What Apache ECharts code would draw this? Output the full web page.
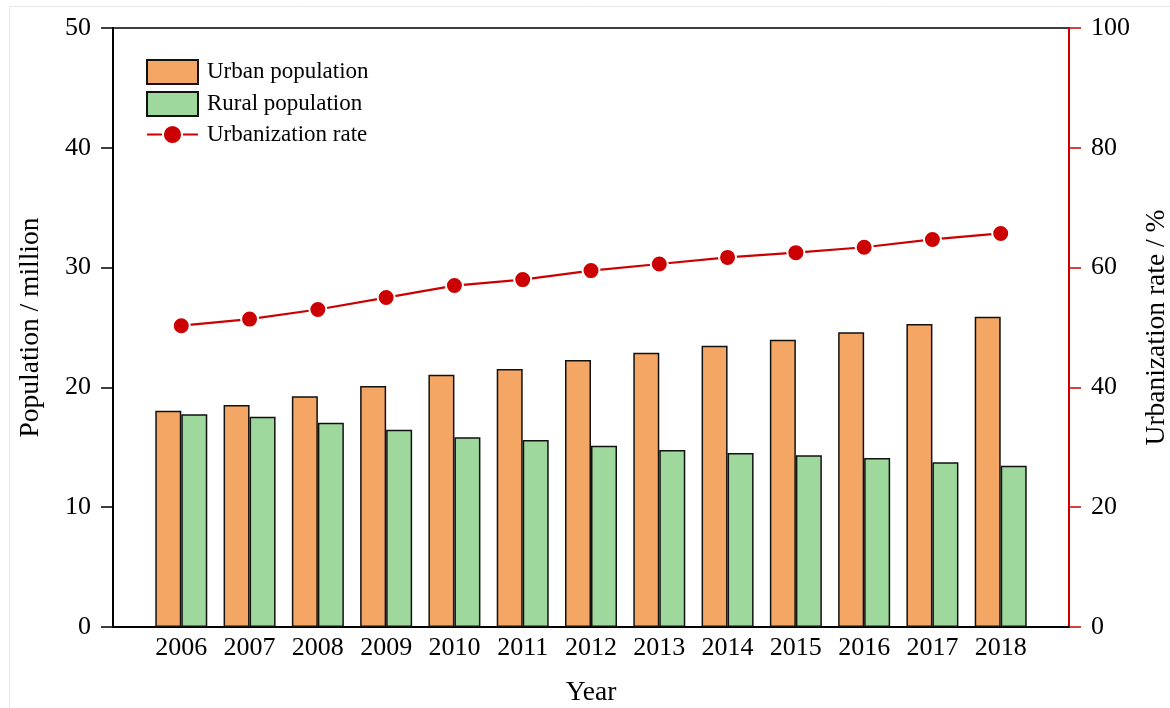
<!DOCTYPE html>
<html>
<head>
<meta charset="utf-8">
<script src="https://cdn.jsdelivr.net/npm/echarts@6/dist/echarts.min.js"></script>
<style>html,body{margin:0;padding:0;background:#fff}#c{width:1170px;height:708px}</style>
</head>
<body>
<div id="c"></div>
<script>
const years = ['2006','2007','2008','2009','2010','2011','2012','2013','2014','2015','2016','2017','2018'];
const urbanPop = [18.06, 18.53, 19.26, 20.12, 21.06, 21.54, 22.29, 22.90, 23.48, 23.98, 24.60, 25.29, 25.90];
const ruralPop = [17.75, 17.55, 17.05, 16.47, 15.83, 15.61, 15.13, 14.77, 14.52, 14.33, 14.11, 13.75, 13.46];
const urbanRate = [50.3, 51.4, 53.0, 55.0, 57.0, 58.0, 59.5, 60.6, 61.7, 62.5, 63.4, 64.7, 65.7];

const font = 'Liberation Serif';
const pad = arr => ['-', ...arr, '-'];
const cats = ['', ...years, ''];

const chart = echarts.init(document.getElementById('c'), null, {renderer: 'canvas'});
chart.setOption({
  animation: false,
  backgroundColor: '#fff',
  textStyle: {fontFamily: font},
  graphic: [{type: 'rect', shape: {x: 9.5, y: 6.5, width: 1200, height: 800}, style: {fill: 'none', stroke: '#e8e8e8', lineWidth: 1}, silent: true, z: -1}],
  grid: {left: 113, right: 101, top: 28, bottom: 81, show: true, borderColor: '#000', borderWidth: 1.5, outerBoundsMode: 'none', containLabel: false},
  legend: {
    orient: 'vertical', left: 146, top: 59, padding: 0, itemWidth: 51, itemHeight: 24, itemGap: 6,
    textStyle: {fontFamily: font, fontSize: 23, color: '#000', padding: [0, 0, 0, 4]},
    data: [
      {name: 'Urban population', icon: 'rect'},
      {name: 'Rural population', icon: 'rect'},
      {name: 'Urbanization rate'}
    ]
  },
  xAxis: {
    type: 'category', data: cats, boundaryGap: false,
    name: 'Year', nameLocation: 'middle', nameGap: 52,
    nameTextStyle: {fontFamily: font, fontSize: 27.5, color: '#000'},
    axisLine: {lineStyle: {color: '#000', width: 2}},
    axisTick: {show: false},
    axisLabel: {fontFamily: font, fontSize: 26, color: '#000', margin: 8, interval: 0}
  },
  yAxis: [{
    type: 'value', min: 0, max: 50, interval: 10,
    name: 'Population / million', nameLocation: 'middle', nameGap: 68, nameRotate: 90,
    nameTextStyle: {fontFamily: font, fontSize: 27.5, color: '#000'},
    axisLine: {show: true, lineStyle: {color: '#000', width: 2}},
    axisTick: {show: true, length: 12, lineStyle: {color: '#000', width: 1.5}},
    axisLabel: {fontFamily: font, fontSize: 26, color: '#000', margin: 22},
    splitLine: {show: false}
  }, {
    type: 'value', min: 0, max: 100, interval: 20, position: 'right',
    name: 'Urbanization rate / %', nameLocation: 'middle', nameGap: 74, nameRotate: 90,
    nameTextStyle: {fontFamily: font, fontSize: 27.5, color: '#000'},
    axisLine: {show: true, lineStyle: {color: '#cc0000', width: 2}},
    axisTick: {show: true, length: 12, lineStyle: {color: '#cc0000', width: 1.5}},
    axisLabel: {fontFamily: font, fontSize: 26, color: '#000', margin: 22},
    splitLine: {show: false}
  }],
  series: [{
    name: 'Urban population', type: 'bar', data: pad(urbanPop), barWidth: 26, barGap: '0%',
    itemStyle: {color: '#F4A765', borderColor: '#111', borderWidth: 1.5}
  }, {
    name: 'Rural population', type: 'bar', data: pad(ruralPop), barWidth: 26, barGap: '0%',
    itemStyle: {color: '#9FD89C', borderColor: '#111', borderWidth: 1.5}
  }, {
    name: 'Urbanization rate', type: 'line', yAxisIndex: 1, data: pad(urbanRate),
    symbol: 'circle', symbolSize: 17, z: 5,
    lineStyle: {color: '#cc0000', width: 2.2},
    itemStyle: {color: '#cc0000', borderColor: '#fff', borderWidth: 2}
  }]
});
</script>
</body>
</html>
